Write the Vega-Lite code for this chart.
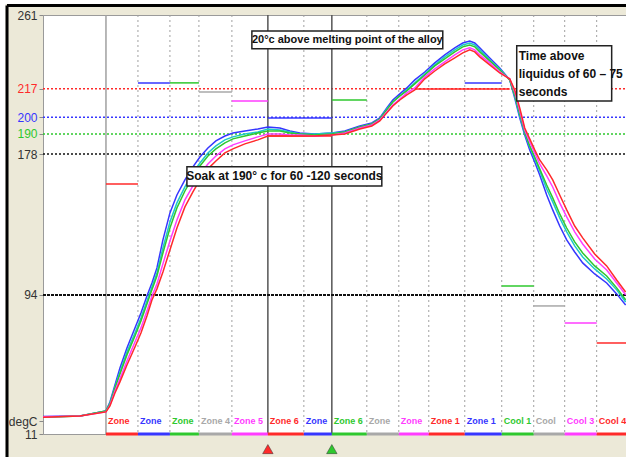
{
  "$schema": "https://vega.github.io/schema/vega-lite/v6.json",
  "width": 583,
  "height": 419,
  "autosize": {"type": "none"},
  "padding": {"left": 43, "top": 15, "right": 0, "bottom": 23},
  "background": "#ece9d8",
  "config": {
    "view": {"fill": "white", "stroke": "#9a9a9a", "strokeWidth": 1},
    "text": {"font": "Liberation Sans"},
    "axisY": {"title": null, "domain": false, "grid": false, "ticks": true, "tickSize": 4, "tickColor": "#8a8a8a", "labelFont": "Liberation Sans", "labelFontSize": 12, "labelPadding": 2, "labelOverlap": false, "labelColor": "#333333"}
  },
  "resolve": {"axis": {"y": "independent"}},
  "datasets": {
    "curves": [
      {"p":"blue","t":0,"v":21.5},{"p":"blue","t":22.2,"v":21.8},{"p":"blue","t":37.8,"v":24.8},{"p":"blue","t":40.2,"v":30.1},{"p":"blue","t":43.2,"v":40.3},{"p":"blue","t":46.2,"v":50.4},{"p":"blue","t":50.4,"v":62.3},{"p":"blue","t":55.2,"v":74.3},{"p":"blue","t":58.8,"v":83.2},{"p":"blue","t":62.4,"v":93.4},{"p":"blue","t":65.4,"v":101.1},{"p":"blue","t":68.4,"v":110.1},{"p":"blue","t":72,"v":126.8},{"p":"blue","t":76.2,"v":142.9},{"p":"blue","t":80.4,"v":153.6},{"p":"blue","t":85.2,"v":162.6},{"p":"blue","t":90,"v":170.4},{"p":"blue","t":94.2,"v":176.3},{"p":"blue","t":99,"v":181.7},{"p":"blue","t":103.8,"v":185.9},{"p":"blue","t":109.2,"v":188.8},{"p":"blue","t":114,"v":190.6},{"p":"blue","t":121.2,"v":191.8},{"p":"blue","t":129,"v":193.0},{"p":"blue","t":135,"v":194.2},{"p":"blue","t":142.2,"v":193.6},{"p":"blue","t":148.2,"v":191.8},{"p":"blue","t":154.2,"v":190.6},{"p":"blue","t":163.2,"v":190.0},{"p":"blue","t":173.4,"v":190.6},{"p":"blue","t":181.2,"v":191.8},{"p":"blue","t":190.2,"v":194.8},{"p":"blue","t":197.4,"v":196.6},{"p":"blue","t":202.2,"v":199.6},{"p":"blue","t":206.4,"v":205.6},{"p":"blue","t":210,"v":210.3},{"p":"blue","t":214.2,"v":213.9},{"p":"blue","t":218.4,"v":217.5},{"p":"blue","t":223.2,"v":222.3},{"p":"blue","t":229.2,"v":227.0},{"p":"blue","t":235.2,"v":232.4},{"p":"blue","t":241.2,"v":237.2},{"p":"blue","t":247.2,"v":241.4},{"p":"blue","t":252,"v":244.3},{"p":"blue","t":256.2,"v":245.5},{"p":"blue","t":259.2,"v":244.3},{"p":"blue","t":262.2,"v":241.4},{"p":"blue","t":268.2,"v":235.4},{"p":"blue","t":274.2,"v":229.4},{"p":"blue","t":280.2,"v":222.3},{"p":"blue","t":283.2,"v":211.5},{"p":"blue","t":286.2,"v":199.6},{"p":"blue","t":289.2,"v":189.4},{"p":"blue","t":292.2,"v":180.5},{"p":"blue","t":295.2,"v":173.3},{"p":"blue","t":298.2,"v":165.6},{"p":"blue","t":302.4,"v":153.6},{"p":"blue","t":306,"v":144.7},{"p":"blue","t":310.2,"v":135.1},{"p":"blue","t":314.4,"v":126.8},{"p":"blue","t":319.2,"v":119.6},{"p":"blue","t":324,"v":113.1},{"p":"blue","t":331.2,"v":106.5},{"p":"blue","t":338.4,"v":101.1},{"p":"blue","t":344.4,"v":94.6},{"p":"blue","t":349.8,"v":88.0},
      {"p":"cyan","t":0,"v":21.2},{"p":"cyan","t":22.2,"v":21.8},{"p":"cyan","t":37.8,"v":24.8},{"p":"cyan","t":40.2,"v":29.5},{"p":"cyan","t":43.2,"v":39.1},{"p":"cyan","t":46.2,"v":48.0},{"p":"cyan","t":50.4,"v":59.9},{"p":"cyan","t":55.2,"v":71.3},{"p":"cyan","t":58.8,"v":80.2},{"p":"cyan","t":62.4,"v":90.4},{"p":"cyan","t":65.4,"v":98.7},{"p":"cyan","t":68.4,"v":107.1},{"p":"cyan","t":72,"v":122.0},{"p":"cyan","t":76.2,"v":137.5},{"p":"cyan","t":80.4,"v":148.9},{"p":"cyan","t":85.2,"v":158.4},{"p":"cyan","t":90,"v":166.8},{"p":"cyan","t":94.2,"v":172.7},{"p":"cyan","t":99,"v":178.7},{"p":"cyan","t":103.8,"v":182.9},{"p":"cyan","t":109.2,"v":186.5},{"p":"cyan","t":114,"v":188.3},{"p":"cyan","t":121.2,"v":190.0},{"p":"cyan","t":129,"v":191.2},{"p":"cyan","t":135,"v":193.0},{"p":"cyan","t":142.2,"v":192.4},{"p":"cyan","t":148.2,"v":191.2},{"p":"cyan","t":154.2,"v":190.0},{"p":"cyan","t":163.2,"v":190.0},{"p":"cyan","t":173.4,"v":190.6},{"p":"cyan","t":181.2,"v":191.2},{"p":"cyan","t":190.2,"v":194.2},{"p":"cyan","t":197.4,"v":196.0},{"p":"cyan","t":202.2,"v":199.0},{"p":"cyan","t":206.4,"v":205.0},{"p":"cyan","t":210,"v":209.1},{"p":"cyan","t":214.2,"v":212.7},{"p":"cyan","t":218.4,"v":216.3},{"p":"cyan","t":223.2,"v":220.5},{"p":"cyan","t":229.2,"v":225.8},{"p":"cyan","t":235.2,"v":231.2},{"p":"cyan","t":241.2,"v":236.0},{"p":"cyan","t":247.2,"v":240.2},{"p":"cyan","t":252,"v":243.1},{"p":"cyan","t":256.2,"v":244.3},{"p":"cyan","t":259.2,"v":243.1},{"p":"cyan","t":262.2,"v":240.2},{"p":"cyan","t":268.2,"v":234.2},{"p":"cyan","t":274.2,"v":228.8},{"p":"cyan","t":280.2,"v":222.3},{"p":"cyan","t":283.2,"v":212.7},{"p":"cyan","t":286.2,"v":200.8},{"p":"cyan","t":289.2,"v":190.6},{"p":"cyan","t":292.2,"v":182.3},{"p":"cyan","t":295.2,"v":175.1},{"p":"cyan","t":298.2,"v":168.0},{"p":"cyan","t":302.4,"v":157.2},{"p":"cyan","t":306,"v":149.5},{"p":"cyan","t":310.2,"v":139.9},{"p":"cyan","t":314.4,"v":131.6},{"p":"cyan","t":319.2,"v":123.2},{"p":"cyan","t":324,"v":116.6},{"p":"cyan","t":331.2,"v":109.5},{"p":"cyan","t":338.4,"v":103.5},{"p":"cyan","t":344.4,"v":97.0},{"p":"cyan","t":349.8,"v":89.8},
      {"p":"green","t":0,"v":21.0},{"p":"green","t":22.2,"v":21.8},{"p":"green","t":37.8,"v":24.8},{"p":"green","t":40.2,"v":28.9},{"p":"green","t":43.2,"v":38.5},{"p":"green","t":46.2,"v":46.8},{"p":"green","t":50.4,"v":58.2},{"p":"green","t":55.2,"v":69.5},{"p":"green","t":58.8,"v":78.5},{"p":"green","t":62.4,"v":88.6},{"p":"green","t":65.4,"v":97.0},{"p":"green","t":68.4,"v":105.3},{"p":"green","t":72,"v":119.0},{"p":"green","t":76.2,"v":133.9},{"p":"green","t":80.4,"v":145.9},{"p":"green","t":85.2,"v":156.0},{"p":"green","t":90,"v":164.4},{"p":"green","t":94.2,"v":170.9},{"p":"green","t":99,"v":176.9},{"p":"green","t":103.8,"v":181.1},{"p":"green","t":109.2,"v":184.7},{"p":"green","t":114,"v":187.1},{"p":"green","t":121.2,"v":188.8},{"p":"green","t":129,"v":190.6},{"p":"green","t":135,"v":191.8},{"p":"green","t":142.2,"v":191.8},{"p":"green","t":148.2,"v":190.6},{"p":"green","t":154.2,"v":190.0},{"p":"green","t":163.2,"v":189.4},{"p":"green","t":173.4,"v":190.0},{"p":"green","t":181.2,"v":191.2},{"p":"green","t":190.2,"v":194.2},{"p":"green","t":197.4,"v":196.0},{"p":"green","t":202.2,"v":199.0},{"p":"green","t":206.4,"v":204.4},{"p":"green","t":210,"v":209.1},{"p":"green","t":214.2,"v":212.7},{"p":"green","t":218.4,"v":215.7},{"p":"green","t":223.2,"v":219.9},{"p":"green","t":229.2,"v":225.2},{"p":"green","t":235.2,"v":230.6},{"p":"green","t":241.2,"v":234.8},{"p":"green","t":247.2,"v":239.0},{"p":"green","t":252,"v":242.0},{"p":"green","t":256.2,"v":243.1},{"p":"green","t":259.2,"v":242.0},{"p":"green","t":262.2,"v":239.0},{"p":"green","t":268.2,"v":233.6},{"p":"green","t":274.2,"v":228.2},{"p":"green","t":280.2,"v":222.3},{"p":"green","t":283.2,"v":213.3},{"p":"green","t":286.2,"v":202.0},{"p":"green","t":289.2,"v":191.2},{"p":"green","t":292.2,"v":182.9},{"p":"green","t":295.2,"v":176.3},{"p":"green","t":298.2,"v":169.2},{"p":"green","t":302.4,"v":159.6},{"p":"green","t":306,"v":151.9},{"p":"green","t":310.2,"v":142.3},{"p":"green","t":314.4,"v":133.9},{"p":"green","t":319.2,"v":125.6},{"p":"green","t":324,"v":119.0},{"p":"green","t":331.2,"v":111.3},{"p":"green","t":338.4,"v":105.3},{"p":"green","t":344.4,"v":98.2},{"p":"green","t":349.8,"v":91.0},
      {"p":"magenta","t":0,"v":21.3},{"p":"magenta","t":22.2,"v":21.8},{"p":"magenta","t":37.8,"v":24.2},{"p":"magenta","t":40.2,"v":28.3},{"p":"magenta","t":43.2,"v":36.7},{"p":"magenta","t":46.2,"v":43.9},{"p":"magenta","t":50.4,"v":54.6},{"p":"magenta","t":55.2,"v":65.9},{"p":"magenta","t":58.8,"v":74.3},{"p":"magenta","t":62.4,"v":84.4},{"p":"magenta","t":65.4,"v":93.4},{"p":"magenta","t":68.4,"v":100.5},{"p":"magenta","t":72,"v":112.5},{"p":"magenta","t":76.2,"v":126.2},{"p":"magenta","t":80.4,"v":138.7},{"p":"magenta","t":85.2,"v":150.7},{"p":"magenta","t":90,"v":159.0},{"p":"magenta","t":94.2,"v":166.2},{"p":"magenta","t":99,"v":172.1},{"p":"magenta","t":103.8,"v":176.9},{"p":"magenta","t":109.2,"v":181.1},{"p":"magenta","t":114,"v":183.5},{"p":"magenta","t":121.2,"v":185.9},{"p":"magenta","t":129,"v":188.3},{"p":"magenta","t":135,"v":190.0},{"p":"magenta","t":142.2,"v":190.0},{"p":"magenta","t":148.2,"v":189.4},{"p":"magenta","t":154.2,"v":189.4},{"p":"magenta","t":163.2,"v":188.8},{"p":"magenta","t":173.4,"v":189.4},{"p":"magenta","t":181.2,"v":190.6},{"p":"magenta","t":190.2,"v":193.6},{"p":"magenta","t":197.4,"v":195.4},{"p":"magenta","t":202.2,"v":198.4},{"p":"magenta","t":206.4,"v":203.2},{"p":"magenta","t":210,"v":207.3},{"p":"magenta","t":214.2,"v":210.9},{"p":"magenta","t":218.4,"v":214.5},{"p":"magenta","t":223.2,"v":217.5},{"p":"magenta","t":229.2,"v":224.1},{"p":"magenta","t":235.2,"v":228.8},{"p":"magenta","t":241.2,"v":233.0},{"p":"magenta","t":247.2,"v":237.2},{"p":"magenta","t":252,"v":240.2},{"p":"magenta","t":256.2,"v":241.4},{"p":"magenta","t":259.2,"v":240.2},{"p":"magenta","t":262.2,"v":237.2},{"p":"magenta","t":268.2,"v":232.4},{"p":"magenta","t":274.2,"v":227.0},{"p":"magenta","t":280.2,"v":222.9},{"p":"magenta","t":283.2,"v":215.1},{"p":"magenta","t":286.2,"v":203.8},{"p":"magenta","t":289.2,"v":192.4},{"p":"magenta","t":292.2,"v":185.3},{"p":"magenta","t":295.2,"v":178.7},{"p":"magenta","t":298.2,"v":172.1},{"p":"magenta","t":302.4,"v":165.0},{"p":"magenta","t":306,"v":158.4},{"p":"magenta","t":310.2,"v":148.9},{"p":"magenta","t":314.4,"v":140.5},{"p":"magenta","t":319.2,"v":131.6},{"p":"magenta","t":324,"v":124.4},{"p":"magenta","t":331.2,"v":115.4},{"p":"magenta","t":338.4,"v":108.9},{"p":"magenta","t":344.4,"v":101.1},{"p":"magenta","t":349.8,"v":94.0},
      {"p":"red","t":0,"v":21.0},{"p":"red","t":22.2,"v":21.8},{"p":"red","t":37.8,"v":24.2},{"p":"red","t":40.2,"v":27.7},{"p":"red","t":43.2,"v":35.5},{"p":"red","t":46.2,"v":42.1},{"p":"red","t":50.4,"v":52.2},{"p":"red","t":55.2,"v":62.9},{"p":"red","t":58.8,"v":71.3},{"p":"red","t":62.4,"v":81.4},{"p":"red","t":65.4,"v":91.0},{"p":"red","t":68.4,"v":97.6},{"p":"red","t":72,"v":107.7},{"p":"red","t":76.2,"v":120.8},{"p":"red","t":80.4,"v":133.9},{"p":"red","t":85.2,"v":146.5},{"p":"red","t":90,"v":155.4},{"p":"red","t":94.2,"v":162.6},{"p":"red","t":99,"v":169.2},{"p":"red","t":103.8,"v":173.9},{"p":"red","t":109.2,"v":178.7},{"p":"red","t":114,"v":181.1},{"p":"red","t":121.2,"v":184.1},{"p":"red","t":129,"v":186.5},{"p":"red","t":135,"v":188.8},{"p":"red","t":142.2,"v":188.8},{"p":"red","t":148.2,"v":188.8},{"p":"red","t":154.2,"v":188.8},{"p":"red","t":163.2,"v":188.8},{"p":"red","t":173.4,"v":189.4},{"p":"red","t":181.2,"v":190.0},{"p":"red","t":190.2,"v":193.0},{"p":"red","t":197.4,"v":194.8},{"p":"red","t":202.2,"v":197.8},{"p":"red","t":206.4,"v":202.6},{"p":"red","t":210,"v":206.7},{"p":"red","t":214.2,"v":210.3},{"p":"red","t":218.4,"v":213.3},{"p":"red","t":223.2,"v":216.3},{"p":"red","t":229.2,"v":222.9},{"p":"red","t":235.2,"v":227.6},{"p":"red","t":241.2,"v":231.8},{"p":"red","t":247.2,"v":235.4},{"p":"red","t":252,"v":238.4},{"p":"red","t":256.2,"v":240.2},{"p":"red","t":259.2,"v":239.0},{"p":"red","t":262.2,"v":236.0},{"p":"red","t":268.2,"v":231.2},{"p":"red","t":274.2,"v":226.4},{"p":"red","t":280.2,"v":222.9},{"p":"red","t":283.2,"v":216.3},{"p":"red","t":286.2,"v":205.6},{"p":"red","t":289.2,"v":193.6},{"p":"red","t":292.2,"v":187.1},{"p":"red","t":295.2,"v":180.5},{"p":"red","t":298.2,"v":174.5},{"p":"red","t":302.4,"v":168.6},{"p":"red","t":306,"v":162.6},{"p":"red","t":310.2,"v":153.6},{"p":"red","t":314.4,"v":144.7},{"p":"red","t":319.2,"v":135.1},{"p":"red","t":324,"v":128.0},{"p":"red","t":331.2,"v":118.4},{"p":"red","t":338.4,"v":111.3},{"p":"red","t":344.4,"v":102.9},{"p":"red","t":349.8,"v":95.7}
    ],
    "zones": [
      {"a":37.8,"b":57,"label":"Zone","p":"red"},
      {"a":57,"b":76.2,"label":"Zone","p":"blue"},
      {"a":76.2,"b":93.6,"label":"Zone","p":"green"},
      {"a":93.6,"b":113.4,"label":"Zone 4","p":"gray"},
      {"a":113.4,"b":135,"label":"Zone 5","p":"magenta"},
      {"a":135,"b":156.6,"label":"Zone 6","p":"red"},
      {"a":156.6,"b":173.4,"label":"Zone","p":"blue"},
      {"a":173.4,"b":194.4,"label":"Zone 6","p":"green"},
      {"a":194.4,"b":213.6,"label":"Zone","p":"gray"},
      {"a":213.6,"b":231.6,"label":"Zone","p":"magenta"},
      {"a":231.6,"b":253.2,"label":"Zone 1","p":"red"},
      {"a":253.2,"b":275.4,"label":"Zone 1","p":"blue"},
      {"a":275.4,"b":294.6,"label":"Cool 1","p":"green"},
      {"a":294.6,"b":313.2,"label":"Cool","p":"gray"},
      {"a":313.2,"b":332.4,"label":"Cool 3","p":"magenta"},
      {"a":332.4,"b":350,"label":"Cool 4","p":"red"}
    ],
    "setpoints": [
      {"a":37.8,"b":57,"v":160.2,"p":"red"},
      {"a":57,"b":76.2,"v":220.5,"p":"blue"},
      {"a":76.2,"b":93.6,"v":220.5,"p":"green"},
      {"a":93.6,"b":113.4,"v":215.1,"p":"gray"},
      {"a":113.4,"b":135,"v":209.7,"p":"magenta"},
      {"a":135,"b":173.4,"v":188.8,"p":"red"},
      {"a":135,"b":173.4,"v":199.6,"p":"blue"},
      {"a":173.4,"b":194.4,"v":210.3,"p":"green"},
      {"a":223.2,"b":280.2,"v":216.9,"p":"red"},
      {"a":253.2,"b":275.4,"v":220.5,"p":"blue"},
      {"a":275.4,"b":294.6,"v":99.3,"p":"green"},
      {"a":294.6,"b":313.2,"v":87.4,"p":"gray"},
      {"a":313.2,"b":332.4,"v":77.3,"p":"magenta"},
      {"a":332.4,"b":350,"v":65.3,"p":"red"}
    ],
    "vgrid": [
      {"t":37.8,"k":"solid"},
      {"t":57,"k":"dot"},{"t":76.2,"k":"dot"},{"t":93.6,"k":"dot"},{"t":113.4,"k":"dot"},
      {"t":135,"k":"marker"},
      {"t":156.6,"k":"dot"},
      {"t":173.4,"k":"marker"},
      {"t":194.4,"k":"dot"},{"t":213.6,"k":"dot"},{"t":231.6,"k":"dot"},{"t":253.2,"k":"dot"},{"t":275.4,"k":"dot"},{"t":294.6,"k":"dot"},{"t":313.2,"k":"dot"},{"t":332.4,"k":"dot"}
    ],
    "limits": [
      {"v":217,"p":"red"},{"v":200,"p":"blue"},{"v":190,"p":"green"},{"v":178,"p":"black"}
    ],
    "markers": [
      {"t":135,"p":"red"},{"t":173.4,"p":"green"}
    ],
    "boxes": [
      {"a":125.4,"b":240,"lo":240.8,"hi":251.5},
      {"a":86.4,"b":203.4,"lo":159.0,"hi":170.4},
      {"a":284.4,"b":341.4,"lo":209.7,"hi":242.6}
    ],
    "notes": [
      {"t":182.7,"v":246.2,"text":"20°c above melting point of the alloy"}
    ],
    "notes1": [
      {"t":144.9,"v":164.7,"text":"Soak at 190° c for 60 -120 seconds"}
    ],
    "notes2": [
      {"t":285.6,"v":236.6,"text":"Time above"},
      {"t":285.6,"v":225.8,"text":"liquidus of 60 – 75"},
      {"t":285.6,"v":215.1,"text":"seconds"}
    ]
  },
  "layer": [
    {
      "data": {"name": "limits"},
      "mark": {"type": "rule", "strokeDash": [2, 2], "strokeWidth": 1.5},
      "encoding": {
        "x": {"datum": 0, "type": "quantitative", "scale": {"domain": [0, 350], "nice": false, "zero": false}, "axis": null},
        "x2": {"datum": 350},
        "y": {"field": "v", "type": "quantitative", "scale": {"domain": [11, 261], "nice": false, "zero": false},
          "axis": {"orient": "left", "values": [11, 18.7, 94, 178, 261], "labelExpr": "datum.value == 18.7 ? 'degC' : datum.label"}},
        "color": {"field": "p", "type": "nominal", "legend": null,
          "scale": {"domain": ["red", "blue", "green", "gray", "magenta", "cyan", "black"],
                    "range": ["#ff2a2a", "#3636ff", "#2ec82e", "#a8a8a8", "#ff3cff", "#1ec8c8", "#111111"]}}
      }
    },
    {
      "data": {"values": [{"v": 217}]},
      "mark": {"type": "rule", "opacity": 0},
      "encoding": {
        "y": {"field": "v", "type": "quantitative", "axis": {"orient": "left", "values": [217], "labelColor": "#ff2a2a"}}
      }
    },
    {
      "data": {"values": [{"v": 200}]},
      "mark": {"type": "rule", "opacity": 0},
      "encoding": {
        "y": {"field": "v", "type": "quantitative", "axis": {"orient": "left", "values": [200], "labelColor": "#3636ff"}}
      }
    },
    {
      "data": {"values": [{"v": 190}]},
      "mark": {"type": "rule", "opacity": 0},
      "encoding": {
        "y": {"field": "v", "type": "quantitative", "axis": {"orient": "left", "values": [190], "labelColor": "#2ec82e"}}
      }
    },
    {
      "data": {"name": "vgrid"},
      "transform": [{"filter": "datum.k == 'dot'"}],
      "mark": {"type": "rule", "color": "#a0a0a0", "strokeDash": [2, 3], "strokeWidth": 1},
      "encoding": {
        "x": {"field": "t", "type": "quantitative", "axis": null}
      }
    },
    {
      "data": {"name": "vgrid"},
      "transform": [{"filter": "datum.k == 'solid'"}],
      "mark": {"type": "rule", "color": "#a0a0a0", "strokeWidth": 1.5},
      "encoding": {
        "x": {"field": "t", "type": "quantitative", "axis": null}
      }
    },
    {
      "data": {"name": "vgrid"},
      "transform": [{"filter": "datum.k == 'marker'"}],
      "mark": {"type": "rule", "color": "#555555", "strokeWidth": 1.5},
      "encoding": {
        "x": {"field": "t", "type": "quantitative", "axis": null}
      }
    },
    {
      "data": {"values": [{"v": 94}]},
      "mark": {"type": "rule", "color": "#111111", "strokeDash": [3, 1], "strokeWidth": 2},
      "encoding": {
        "y": {"field": "v", "type": "quantitative", "axis": null}
      }
    },
    {
      "data": {"name": "setpoints"},
      "mark": {"type": "rule", "strokeWidth": 1.5},
      "encoding": {
        "x": {"field": "a", "type": "quantitative", "axis": null},
        "x2": {"field": "b"},
        "y": {"field": "v", "type": "quantitative", "axis": null},
        "color": {"field": "p", "type": "nominal", "legend": null}
      }
    },
    {
      "data": {"name": "zones"},
      "mark": {"type": "rule", "strokeWidth": 3},
      "encoding": {
        "x": {"field": "a", "type": "quantitative", "axis": null},
        "x2": {"field": "b"},
        "y": {"datum": 11, "type": "quantitative", "axis": null},
        "color": {"field": "p", "type": "nominal", "legend": null}
      }
    },
    {
      "data": {"name": "curves"},
      "mark": {"type": "line", "strokeWidth": 1.5},
      "encoding": {
        "x": {"field": "t", "type": "quantitative", "axis": null},
        "y": {"field": "v", "type": "quantitative", "axis": null},
        "color": {"field": "p", "type": "nominal", "legend": null},
        "order": {"field": "t", "type": "quantitative"}
      }
    },
    {
      "data": {"name": "zones"},
      "mark": {"type": "text", "align": "left", "baseline": "middle", "dx": 2, "fontSize": 9, "fontWeight": "bold", "font": "Liberation Sans"},
      "encoding": {
        "x": {"field": "a", "type": "quantitative", "axis": null},
        "y": {"datum": 18.5, "type": "quantitative", "axis": null},
        "text": {"field": "label"},
        "color": {"field": "p", "type": "nominal", "legend": null}
      }
    },
    {
      "data": {"name": "markers"},
      "mark": {"type": "point", "shape": "triangle-up", "filled": true, "size": 110, "opacity": 1, "stroke": "#333333", "strokeWidth": 0.5, "clip": false},
      "encoding": {
        "x": {"field": "t", "type": "quantitative", "axis": null},
        "y": {"datum": 2.0, "type": "quantitative", "axis": null},
        "color": {"field": "p", "type": "nominal", "legend": null}
      }
    },
    {
      "data": {"name": "boxes"},
      "mark": {"type": "rect", "fill": "white", "stroke": "#222222", "strokeWidth": 1.5},
      "encoding": {
        "x": {"field": "a", "type": "quantitative", "axis": null},
        "x2": {"field": "b"},
        "y": {"field": "lo", "type": "quantitative", "axis": null},
        "y2": {"field": "hi"}
      }
    },
    {
      "data": {"name": "notes"},
      "mark": {"type": "text", "align": "center", "baseline": "middle", "fontSize": 11, "fontWeight": "bold", "font": "Liberation Sans", "color": "#111111"},
      "encoding": {
        "x": {"field": "t", "type": "quantitative", "axis": null},
        "y": {"field": "v", "type": "quantitative", "axis": null},
        "text": {"field": "text"}
      }
    },
    {
      "data": {"name": "notes1"},
      "mark": {"type": "text", "align": "center", "baseline": "middle", "fontSize": 12, "fontWeight": "bold", "font": "Liberation Sans", "color": "#111111"},
      "encoding": {
        "x": {"field": "t", "type": "quantitative", "axis": null},
        "y": {"field": "v", "type": "quantitative", "axis": null},
        "text": {"field": "text"}
      }
    },
    {
      "data": {"name": "notes2"},
      "mark": {"type": "text", "align": "left", "baseline": "middle", "fontSize": 12, "fontWeight": "bold", "font": "Liberation Sans", "color": "#111111"},
      "encoding": {
        "x": {"field": "t", "type": "quantitative", "axis": null},
        "y": {"field": "v", "type": "quantitative", "axis": null},
        "text": {"field": "text"}
      }
    },
    {
      "data": {"values": [{"a": -30, "b": 360, "lo": 267.6, "hi": 280}, {"a": -30, "b": -22.5, "lo": -10, "hi": 280}]},
      "mark": {"type": "rect", "fill": "white", "clip": false},
      "encoding": {
        "x": {"field": "a", "type": "quantitative", "axis": null},
        "x2": {"field": "b"},
        "y": {"field": "lo", "type": "quantitative", "axis": null},
        "y2": {"field": "hi"}
      }
    },
    {
      "data": {"values": [{"a": -21.6, "b": 360, "lo": 266.7, "hi": 266.7}, {"a": -21.6, "b": -21.6, "lo": -10, "hi": 266.7}]},
      "mark": {"type": "rule", "color": "#000000", "strokeWidth": 3, "clip": false},
      "encoding": {
        "x": {"field": "a", "type": "quantitative", "axis": null},
        "x2": {"field": "b"},
        "y": {"field": "lo", "type": "quantitative", "axis": null},
        "y2": {"field": "hi"}
      }
    }
  ]
}
